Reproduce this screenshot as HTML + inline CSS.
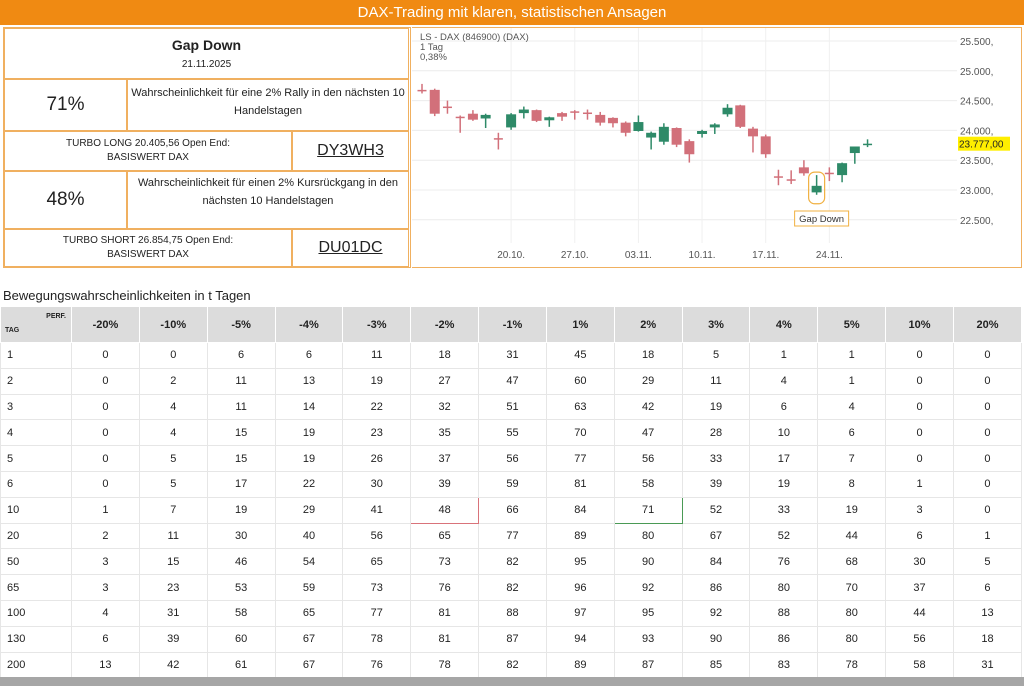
<!DOCTYPE html>
<html><head><meta charset="utf-8">
<style>
*{margin:0;padding:0;box-sizing:border-box}
body{width:1024px;height:686px;overflow:hidden;background:#fff;font-family:"Liberation Sans",sans-serif;color:#222;position:relative}
#hdr{position:absolute;left:0;top:0;width:1024px;height:25px;background:#f08a12;color:#fff;font-size:15px;text-align:center;line-height:25px}
#info{position:absolute;left:3px;top:27px;width:408px;height:241px;border:1.5px solid #f0b060}
.cell{position:absolute;border:1px solid #f0b060;display:flex;align-items:center;justify-content:center;text-align:center}
#chart{position:absolute;left:412px;top:27px;width:610px;height:241px;border:1.5px solid #f0b060;border-left:none}
#ttl{position:absolute;left:3px;top:288px;font-size:13px}
table{position:absolute;left:0;top:306px;width:1022px;border-collapse:collapse;table-layout:fixed;font-size:11px}
td,th{border:1px solid #e6e6e6;text-align:center;height:25.8px;padding:0}
th{background:#dcdcdc;font-weight:bold;font-size:11px;height:36px;border:1px solid #fff}
td:first-child{text-align:left;padding-left:6px}
#foot{position:absolute;left:0;top:677px;width:1024px;height:9px;background:#a6a6a6}
</style></head><body>
<div id="hdr">DAX-Trading mit klaren, statistischen Ansagen</div>
<div id="info">
 <div class="cell" style="left:0;top:0;width:405px;height:51px;flex-direction:column"><div style="font-weight:bold;font-size:14px">Gap Down</div><div style="font-size:10px;margin-top:6px">21.11.2025</div></div>
 <div class="cell" style="left:0;top:51px;width:123px;height:52px;font-size:19px">71%</div>
 <div class="cell" style="left:123px;top:51px;width:282px;height:52px;font-size:11px;align-items:flex-start;padding-top:4px;line-height:18px">Wahrscheinlichkeit für eine 2% Rally in den nächsten 10 Handelstagen</div>
 <div class="cell" style="left:0;top:103px;width:288px;height:40px;font-size:10px;line-height:14px">TURBO LONG 20.405,56 Open End:<br>BASISWERT DAX</div>
 <div class="cell" style="left:288px;top:103px;width:117px;height:40px;font-size:16px;text-decoration:underline">DY3WH3</div>
 <div class="cell" style="left:0;top:143px;width:123px;height:58px;font-size:19px">48%</div>
 <div class="cell" style="left:123px;top:143px;width:282px;height:58px;font-size:11px;align-items:flex-start;padding-top:2px;line-height:18px">Wahrscheinlichkeit für einen 2% Kursrückgang in den nächsten 10 Handelstagen</div>
 <div class="cell" style="left:0;top:201px;width:288px;height:38px;font-size:10px;line-height:14px">TURBO SHORT 26.854,75 Open End:<br>BASISWERT DAX</div>
 <div class="cell" style="left:288px;top:201px;width:117px;height:38px;font-size:16px;text-decoration:underline">DU01DC</div>
</div>
<div id="chart">
<svg id="svg" width="610" height="241" xmlns="http://www.w3.org/2000/svg"></svg>
</div>
<div id="ttl">Bewegungswahrscheinlichkeiten in t Tagen</div>
<table id="tbl"></table>
<div id="foot"></div>
<script>
const opens =[24680,24680,24400,24230,24280,24200,23870,24050,24290,24340,24170,24290,24320,24300,24260,24210,24130,23990,23880,23810,24040,23820,23940,24050,24270,24420,24030,23900,23230,23180,23380,22960,23290,23250,23620,23765];
const closes=[24660,24280,24390,24225,24180,24260,23860,24270,24350,24160,24220,24230,24320,24300,24130,24120,23960,24140,23960,24060,23760,23600,23990,24100,24380,24060,23900,23600,23220,23170,23280,23070,23280,23450,23730,23777];
const highs =[24780,24700,24500,24250,24340,24280,23960,24290,24400,24350,24230,24310,24340,24350,24310,24220,24150,24250,23980,24120,24050,23850,24010,24120,24440,24430,24060,23930,23340,23330,23500,23250,23380,23460,23730,23850];
const lows  =[24620,24240,24280,23960,24160,24040,23680,24010,24200,24140,24060,24160,24180,24180,24080,24050,23900,23980,23680,23760,23720,23460,23880,23940,24230,24040,23630,23540,23080,23100,23240,22920,23150,23130,23440,23720];
const redFlags=[1,1,1,1,1,0,1,0,0,1,0,1,1,1,1,1,1,0,0,0,1,1,0,0,0,1,1,1,1,1,1,0,1,0,0,0];
const yTicks=[25500,25000,24500,24000,23500,23000,22500];
const yTickLabels=["25.500,","25.000,","24.500,","24.000,","23.500,","23.000,","22.500,"];
const xTickIdx=[7,12,17,22,27,32];
const xTickLabels=["20.10.","27.10.","03.11.","10.11.","17.11.","24.11."];
const lastPrice=23777;
const gapIdx=31;

const NS="http://www.w3.org/2000/svg";
const svg=document.getElementById('svg');
const y=v=>13+(25500-v)/500*29.8;
const x=i=>10+i*12.73;
function mk(t,a){const e=document.createElementNS(NS,t);for(const k in a)e.setAttribute(k,a[k]);svg.appendChild(e);return e;}
yTicks.forEach((v,i)=>{
 const g=mk('line',{x1:0,x2:545,y1:y(v),y2:y(v),stroke:'#ececec'});
 
 
 const t=mk('text',{x:548,y:y(v)+4,'font-size':'10','fill':'#555','font-family':'Liberation Sans'});
 t.textContent=yTickLabels[i];
 
 
});
xTickIdx.forEach((d,i)=>{
 const g=mk('line',{x1:x(d),x2:x(d),y1:0,y2:215,stroke:'#f0f0f0'});
 
 
 const t=mk('text',{x:x(d),y:230,'font-size':'10','fill':'#555','text-anchor':'middle','font-family':'Liberation Sans'});
 t.textContent=xTickLabels[i];
 
 
});
[["LS - DAX (846900) (DAX)",12],["1 Tag",22],["0,38%",32]].forEach(([s,yy])=>{
 const t=mk('text',{x:8,y:yy,'font-size':'9.5','fill':'#555','font-family':'Liberation Sans'});
 t.textContent=s;
 
 
});
opens.forEach((o,i)=>{
 const c=closes[i],col=redFlags[i]?'#d2707a':'#2e8a68';
 const w=mk('line',{x1:x(i),x2:x(i),y1:y(highs[i]),y2:y(lows[i]),stroke:col,'stroke-width':1.5});
 
 
 const top=y(Math.max(o,c)),h=Math.max(1.5,Math.abs(y(o)-y(c)));
 const wd=Math.abs(o-c)<25?9:10;
 const b=mk('rect',{x:x(i)-wd/2,y:top,width:wd,height:h,fill:col});
 
 
});
const gx=x(gapIdx);
const gm=mk('rect',{x:gx-8,y:y(highs[gapIdx])-3,width:16,height:y(lows[gapIdx])-y(highs[gapIdx])+12,rx:6,fill:'none',stroke:'#f0b040','stroke-width':1.2});


const gb=mk('rect',{x:gx-22,y:183,width:54,height:15,fill:'#fff',stroke:'#f0b040'});


const gt=mk('text',{x:gx+5,y:194,'font-size':'9.5','text-anchor':'middle','fill':'#333','font-family':'Liberation Sans'});
gt.textContent='Gap Down';


const pb=mk('rect',{x:546,y:y(lastPrice)-7,width:52,height:14,fill:'#ffee00'});


const pt=mk('text',{x:547,y:y(lastPrice)+4,'font-size':'10','fill':'#222','font-family':'Liberation Sans'});
pt.textContent='23.777,00';



const cols=["-20%","-10%","-5%","-4%","-3%","-2%","-1%","1%","2%","3%","4%","5%","10%","20%"];
const days=[1,2,3,4,5,6,10,20,50,65,100,130,200];
const vals=[
[0,0,6,6,11,18,31,45,18,5,1,1,0,0],
[0,2,11,13,19,27,47,60,29,11,4,1,0,0],
[0,4,11,14,22,32,51,63,42,19,6,4,0,0],
[0,4,15,19,23,35,55,70,47,28,10,6,0,0],
[0,5,15,19,26,37,56,77,56,33,17,7,0,0],
[0,5,17,22,30,39,59,81,58,39,19,8,1,0],
[1,7,19,29,41,48,66,84,71,52,33,19,3,0],
[2,11,30,40,56,65,77,89,80,67,52,44,6,1],
[3,15,46,54,65,73,82,95,90,84,76,68,30,5],
[3,23,53,59,73,76,82,96,92,86,80,70,37,6],
[4,31,58,65,77,81,88,97,95,92,88,80,44,13],
[6,39,60,67,78,81,87,94,93,90,86,80,56,18],
[13,42,61,67,76,78,82,89,87,85,83,78,58,31]];
const tbl=document.getElementById('tbl');
let h='<tr><th style="width:71px;position:relative;font-size:7px"><span style="position:absolute;left:4px;bottom:8px">TAG</span><span style="position:absolute;right:5px;top:6px">PERF.</span></th>';
cols.forEach(c=>h+='<th>'+c+'</th>');
h+='</tr>';
days.forEach((d,r)=>{
 h+='<tr><td>'+d+'</td>';
 vals[r].forEach((v,c)=>{
  let st='';
  if(d===10&&cols[c]==='-2%')st=' style="border:1.5px solid #d9737a"';
  if(d===10&&cols[c]==='2%')st=' style="border:1.5px solid #4a9a55"';
  h+='<td'+st+'>'+v+'</td>';
 });
 h+='</tr>';
});
tbl.innerHTML=h;
</script>
</body></html>
